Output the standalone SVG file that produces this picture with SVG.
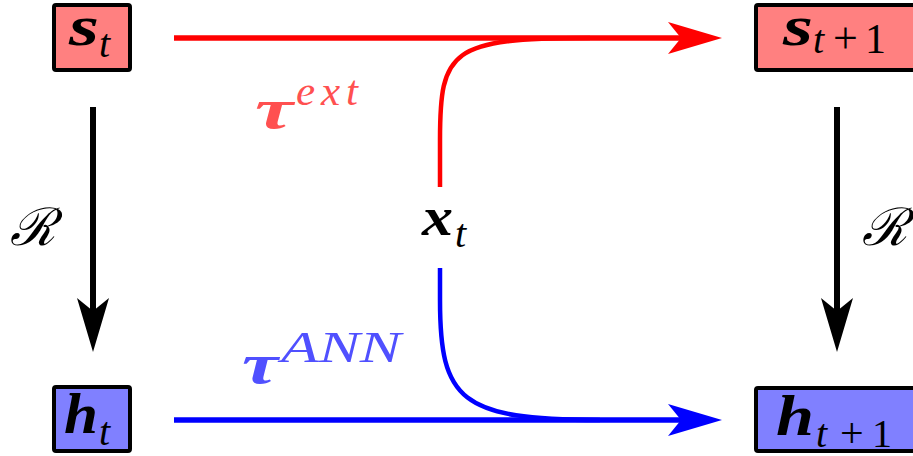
<svg xmlns="http://www.w3.org/2000/svg" width="913" height="456" viewBox="0 0 913 456">
<style>
.box{stroke:#000;stroke-width:4;}
.red{fill:#ff8080;}
.blue{fill:#8080ff;}
.m{font-family:"Liberation Serif","DejaVu Serif",serif;font-style:italic;font-weight:bold;}
.s{font-family:"Liberation Serif","DejaVu Serif",serif;font-style:italic;font-weight:normal;}
.n{font-family:"Liberation Serif","DejaVu Serif",serif;font-style:normal;font-weight:normal;}
.cal{font-family:"DejaVu Serif","Liberation Serif",serif;font-style:italic;}
</style>
<defs>
<marker id="ahR" markerUnits="userSpaceOnUse" viewBox="0 0 54 32" markerWidth="54" markerHeight="32" refX="32" refY="16" orient="auto"><path d="M0,0 L54,16 L0,32 L13,16 Z" fill="#ff0000"/></marker>
<marker id="ahB" markerUnits="userSpaceOnUse" viewBox="0 0 54 32" markerWidth="54" markerHeight="32" refX="32" refY="16" orient="auto"><path d="M0,0 L54,16 L0,32 L13,16 Z" fill="#0000ff"/></marker>
<marker id="ahK" markerUnits="userSpaceOnUse" viewBox="0 0 54 32" markerWidth="54" markerHeight="32" refX="32" refY="16" orient="auto"><path d="M0,0 L54,16 L0,32 L13,16 Z" fill="#000"/></marker>
</defs>
<g id="connectors" fill="none">
<path d="M174,38 L700,38" stroke="#ff0000" stroke-width="5.5" marker-end="url(#ahR)"/>
<path d="M174,420 L700,420" stroke="#0000ff" stroke-width="5.5" marker-end="url(#ahB)"/>
<path d="M440,187 L440,140 C440,50 450,38 590,38" stroke="#ff0000" stroke-width="4.5"/>
<path d="M440,268 L440,300 C440,400 460,420 600,420" stroke="#0000ff" stroke-width="4.5"/>
<path d="M93,107 L93,330" stroke="#000" stroke-width="6" marker-end="url(#ahK)"/>
<path d="M837,107 L837,330" stroke="#000" stroke-width="6" marker-end="url(#ahK)"/>
</g>
<g id="s_t">
<rect class="box red" x="54" y="5" width="76" height="65" rx="2"/>
<text class="m" x="69" y="45" font-size="58" textLength="30" lengthAdjust="spacingAndGlyphs">s</text>
<text class="s" x="99" y="57" font-size="40">t</text>
</g>
<g id="s_t1">
<rect class="box red" x="756" y="5" width="200" height="65" rx="2"/>
<text class="m" x="783" y="45" font-size="58" textLength="30" lengthAdjust="spacingAndGlyphs">s</text>
<text class="s" x="813" y="53" font-size="40">t</text>
<text class="n" x="833" y="53" font-size="44">+</text>
<text class="n" x="865" y="53" font-size="42">1</text>
</g>
<g id="h_t">
<rect class="box blue" x="54" y="387" width="76" height="64" rx="2"/>
<text class="m" x="64" y="433" font-size="56" textLength="34" lengthAdjust="spacingAndGlyphs">h</text>
<text class="s" x="99" y="445" font-size="40">t</text>
</g>
<g id="h_t1">
<rect class="box blue" x="756" y="388" width="200" height="63" rx="2"/>
<text class="m" x="776" y="435" font-size="56" textLength="38" lengthAdjust="spacingAndGlyphs">h</text>
<text class="s" x="816" y="447" font-size="40">t</text>
<text class="n" x="840" y="447" font-size="42">+</text>
<text class="n" x="872" y="447" font-size="40">1</text>
</g>
<g id="x_t">
<text class="m" x="422" y="235" font-size="54" textLength="31" lengthAdjust="spacingAndGlyphs">x</text>
<text class="s" x="455" y="247" font-size="40">t</text>
</g>
<g id="tau_ext" fill="#ff5050">
<text class="m" x="255" y="128" font-size="58" textLength="38" lengthAdjust="spacingAndGlyphs">τ</text>
<text class="s" x="296" y="105" font-size="43" textLength="62" lengthAdjust="spacing">ext</text>
</g>
<g id="tau_ann" fill="#5050ff">
<text class="m" x="242" y="383" font-size="56" textLength="36" lengthAdjust="spacingAndGlyphs">τ</text>
<text class="s" x="281" y="362" font-size="44" textLength="120" lengthAdjust="spacingAndGlyphs">ANN</text>
</g>
<g id="R_left"><text class="cal" x="10" y="245" font-size="52">ℛ</text></g>
<g id="R_right"><text class="cal" x="862" y="245" font-size="52">ℛ</text></g>
</svg>
